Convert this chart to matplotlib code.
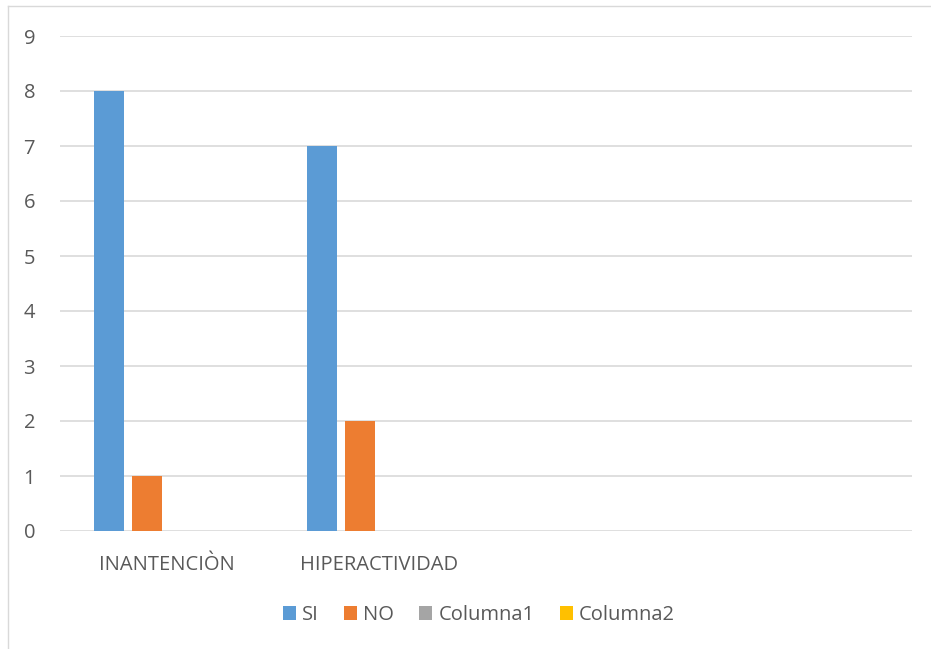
import matplotlib
matplotlib.use("Agg")
import matplotlib.pyplot as plt
import numpy as np
from matplotlib.patches import Patch
from matplotlib.lines import Line2D

plt.rcParams['font.family'] = ['Open Sans', 'DejaVu Sans']

categories = ["INANTENCIÒN", "HIPERACTIVIDAD", "", ""]
series_names = ["SI", "NO", "Columna1", "Columna2"]
si = [8, 7, 0, 0]
no = [1, 2, 0, 0]
col1 = [0, 0, 0, 0]
col2 = [0, 0, 0, 0]
values = [si, no, col1, col2]
colors = ["#5B9BD5", "#ED7D31", "#A5A5A5", "#FFC000"]

W, H = 931, 649
fig = plt.figure(figsize=(W/100, H/100), dpi=100)
ax = fig.add_axes([60/W, 1-531/H, (912-60)/W, (531-36)/H])

x = np.arange(len(categories))
bw = 30/213
gap = 8/213
n = len(series_names)
total = n*bw + (n-1)*gap
for i, (vals, c) in enumerate(zip(values, colors)):
    offs = -total/2 + bw/2 + i*(bw+gap)
    ax.bar(x + offs - 0.002, vals, width=bw, color=c, zorder=3)

ax.set_xlim(-0.5, len(categories)-0.5)
ax.set_ylim(0, 9)
ax.set_yticks(range(0, 10))
ax.grid(axis='y', color='#d9d9d9', linewidth=1.2, zorder=0)
for s in ax.spines.values():
    s.set_visible(False)
ax.tick_params(axis='both', length=0, labelsize=14.5, colors='#595959')
ax.tick_params(axis='y', pad=18)
ax.tick_params(axis='x', pad=17)
ax.set_xticks(x)
ax.set_xticklabels(categories)

# chart border (top and left visible)
fig.add_artist(Line2D([8/W, 1], [1-6/H, 1-6/H], color='#d9d9d9', lw=1))
fig.add_artist(Line2D([8/W, 8/W], [1-6/H, 0], color='#d9d9d9', lw=1))

handles = [Patch(facecolor=c, edgecolor='none') for c in colors]
leg = fig.legend(handles, series_names, loc='center', bbox_to_anchor=(479/W, 1-615/H),
                 ncol=4, frameon=False, fontsize=14.5, handlelength=0.65, handleheight=0.65,
                 handletextpad=0.3, columnspacing=1.25)
for t in leg.get_texts():
    t.set_color('#595959')

fig.savefig("out.png", dpi=100)
